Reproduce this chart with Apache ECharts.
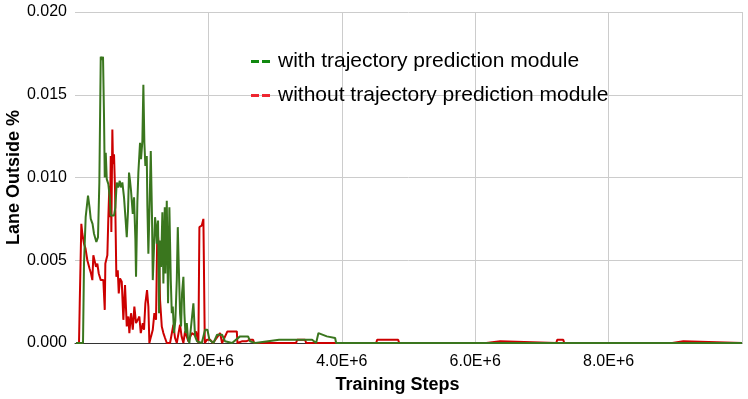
<!DOCTYPE html>
<html>
<head>
<meta charset="utf-8">
<script src="https://cdn.jsdelivr.net/npm/echarts@6/dist/echarts.min.js"></script>
<style>
html, body { margin: 0; padding: 0; background: #fff; }
#main { width: 748px; height: 399px; }
</style>
</head>
<body>
<div id="main"></div>
<script>
var seriesNames = ['with trajectory prediction module', 'without trajectory prediction module'];

// with trajectory prediction module
var greenSteps = [15000, 120000, 135000, 160000, 180000, 195000, 218000, 236000, 263000, 285000,
    320000, 345000, 365000, 386000, 405000, 420000, 435000, 446000, 461000, 476000,
    500000, 521000, 536000, 585000, 605000, 626000, 645000, 671000, 686000, 710000,
    735000, 761000, 776000, 795000, 810000, 825000, 840000, 866000, 885000, 905000,
    915000, 935000, 950000, 975000, 990000, 1010000, 1025000, 1040000, 1055000, 1076000,
    1085000, 1100000, 1115000, 1136000, 1155000, 1166000, 1185000, 1200000, 1215000, 1226000,
    1245000, 1260000, 1275000, 1290000, 1310000, 1325000, 1346000, 1355000, 1376000, 1395000,
    1415000, 1436000, 1451000, 1466000, 1485000, 1505000, 1526000, 1541000, 1556000, 1575000,
    1590000, 1605000, 1625000, 1640000, 1655000, 1676000, 1695000, 1715000, 1740000, 1775000,
    1800000, 1830000, 1901000, 1950000, 1985000, 2015000, 2075000, 2130000, 2205000, 2250000,
    2355000, 2475000, 2595000, 2625000, 2700000, 3060000, 3555000, 3615000, 3650000, 3776000,
    3900000, 3915000, 10000000];
var greenValues = [0, 0, 0.0048, 0.0076, 0.0075, 0.0089, 0.0082, 0.0075, 0.0072, 0.0066,
    0.0061, 0.0064, 0.0097, 0.0173, 0.0171, 0.0173, 0.0137, 0.0100, 0.0115, 0.0099,
    0.0096, 0.0088, 0.0077, 0.0077, 0.0082, 0.0097, 0.0094, 0.0098, 0.0094, 0.0097,
    0.0088, 0.0073, 0.0064, 0.0080, 0.0103, 0.0098, 0.0092, 0.0078, 0.0088, 0.0063,
    0.0040, 0.0085, 0.0103, 0.0121, 0.0111, 0.0122, 0.0156, 0.0121, 0.0107, 0.0113,
    0.0083, 0.0054, 0.0078, 0.0116, 0.0075, 0.0038, 0.0058, 0.0076, 0.0070, 0.0060,
    0.0074, 0.0018, 0.0062, 0.0046, 0.0079, 0.0036, 0.0082, 0.0042, 0.0086, 0.0024,
    0.0082, 0.0038, 0.0018, 0.0022, 0.0006, 0.0014, 0.0038, 0.0070, 0.0046, 0.0018,
    0.0010, 0.0030, 0.0040, 0.0018, 0.0006, 0.0012, 0.0002, 0, 0.0001, 0.0024,
    0.0004, 0.0001, 0, 0.0008, 0.0008, 0.0002, 0, 0.0005, 0.0005, 0.0001,
    0, 0.0004, 0.0004, 0.0001, 0, 0.0002, 0.0002, 0, 0.0006, 0.0004,
    0.0003, 0, 0];

// without trajectory prediction module
var redSteps = [15000, 60000, 71000, 95000, 110000, 135000, 158000, 185000, 218000, 240000,
    260000, 275000, 300000, 315000, 335000, 356000, 386000, 425000, 446000, 455000,
    485000, 500000, 515000, 525000, 536000, 545000, 560000, 570000, 585000, 600000,
    620000, 641000, 656000, 675000, 701000, 725000, 750000, 776000, 800000, 815000,
    840000, 866000, 890000, 915000, 941000, 965000, 986000, 1016000, 1035000, 1055000,
    1080000, 1100000, 1115000, 1140000, 1166000, 1190000, 1215000, 1235000, 1256000, 1275000,
    1301000, 1325000, 1350000, 1376000, 1425000, 1475000, 1500000, 1526000, 1575000, 1598000,
    1625000, 1650000, 1700000, 1751000, 1785000, 1815000, 1850000, 1865000, 1901000, 1925000,
    1946000, 1980000, 2025000, 2070000, 2175000, 2205000, 2285000, 2426000, 2435000, 2501000,
    2565000, 2625000, 2670000, 2685000, 3315000, 3330000, 3450000, 3465000, 4515000, 4530000,
    4845000, 4860000, 6165000, 6180000, 6375000, 6390000, 7215000, 7230000, 7320000, 7335000,
    8955000, 8970000, 9120000, 9135000, 10000000];
var redValues = [0, 0, 0.0024, 0.0072, 0.0066, 0.0060, 0.0057, 0.0050, 0.0045, 0.0042,
    0.0038, 0.0053, 0.0053, 0.0046, 0.0048, 0.0042, 0.0038, 0.0038, 0.0020, 0.0048,
    0.0053, 0.0076, 0.0095, 0.0076, 0.0113, 0.0067, 0.0129, 0.0108, 0.0114, 0.0093,
    0.0040, 0.0044, 0.0030, 0.0039, 0.0037, 0.0014, 0.0035, 0.0010, 0.0016, 0.0006,
    0.0018, 0.0008, 0.0022, 0.0012, 0.0014, 0.0016, 0.0006, 0.0012, 0.0008, 0.0024,
    0.0032, 0.0022, 0, 0.0004, 0.0008, 0.0018, 0.0014, 0.0070, 0.0058, 0.0026,
    0.0010, 0.0006, 0.0003, 0, 0, 0.0011, 0.0003, 0, 0.0011, 0.0004,
    0, 0.0007, 0.0001, 0.0006, 0.0005, 0.0007, 0, 0.0070, 0.0071, 0.0075,
    0, 0.0002, 0.0002, 0, 0.0006, 0, 0.0007, 0.0007, 0, 0.0001,
    0.0001, 0.0002, 0.0002, 0, 0, 0.0002, 0.0002, 0, 0, 0.0002,
    0.0002, 0, 0, 0.0001, 0.0001, 0, 0, 0.0002, 0.0002, 0,
    0, 0.0001, 0.0001, 0, 0];

function pairs(xs, ys) {
    var out = [];
    for (var i = 0; i < xs.length; i++) {
        out.push([xs[i], ys[i]]);
    }
    return out;
}

var dashIcon = 'path://M0,0H8V3H0Z M11,0H19V3H11Z';
var font = '"Liberation Sans", Arial, sans-serif';

var myChart = echarts.init(document.getElementById('main'));
myChart.setOption({
    animation: false,
    grid: {
        left: 75,
        right: 6,
        top: 12,
        bottom: 56,
        outerBoundsMode: 'none'
    },
    legend: {
        orient: 'vertical',
        left: 246,
        top: 46,
        itemWidth: 19,
        itemHeight: 3,
        itemGap: 13,
        textStyle: {
            fontFamily: font,
            fontSize: 21,
            color: '#000',
            padding: [0, 0, 0, 3]
        },
        data: [
            { name: seriesNames[0], icon: dashIcon, itemStyle: { color: '#11880f' } },
            { name: seriesNames[1], icon: dashIcon, itemStyle: { color: '#ee2630' } }
        ]
    },
    xAxis: {
        type: 'value',
        min: 0,
        max: 10000000,
        interval: 2000000,
        name: 'Training Steps',
        nameLocation: 'middle',
        nameGap: 33,
        nameMoveOverlap: false,
        nameTextStyle: {
            fontFamily: font,
            fontSize: 18,
            fontWeight: 'bold',
            color: '#000',
            padding: [0, 22, 0, 0]
        },
        axisLine: { lineStyle: { color: '#333', width: 1 } },
        axisTick: { show: false },
        axisLabel: {
            fontFamily: font,
            fontSize: 16,
            color: '#000',
            margin: 11,
            formatter: function (v) {
                if (v === 0 || v === 10000000) return '';
                return (v / 1000000).toFixed(1) + 'E+6';
            }
        },
        splitLine: {
            show: true,
            showMinLine: false,
            lineStyle: { color: '#cccccc', width: 1 }
        }
    },
    yAxis: {
        type: 'value',
        min: 0,
        max: 0.02,
        interval: 0.005,
        name: 'Lane Outside %',
        nameLocation: 'middle',
        nameGap: 52,
        nameMoveOverlap: false,
        nameTextStyle: {
            fontFamily: font,
            fontSize: 18,
            fontWeight: 'bold',
            color: '#000'
        },
        axisLine: { show: false },
        axisTick: { show: false },
        axisLabel: {
            fontFamily: font,
            fontSize: 16,
            color: '#000',
            margin: 8,
            formatter: function (v) { return v.toFixed(3); }
        },
        splitLine: {
            show: true,
            lineStyle: { color: '#cccccc', width: 1 }
        }
    },
    series: [{
        name: seriesNames[1],
        type: 'line',
        data: pairs(redSteps, redValues),
        showSymbol: false,
        color: '#cc0000',
        lineStyle: { color: '#cc0000', width: 2 }
    }, {
        name: seriesNames[0],
        type: 'line',
        data: pairs(greenSteps, greenValues),
        showSymbol: false,
        color: '#3a761e',
        lineStyle: { color: '#3a761e', width: 2 }
    }]
});
</script>
</body>
</html>
